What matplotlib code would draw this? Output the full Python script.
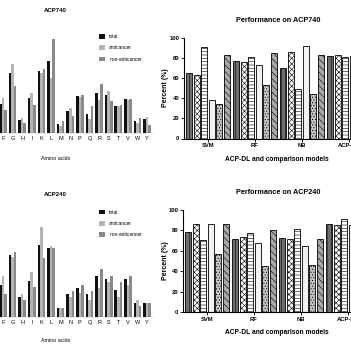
import numpy as np
import matplotlib
matplotlib.use("Agg")
import matplotlib.pyplot as plt
from matplotlib.patches import Patch

plt.rcParams['font.family'] = ['Liberation Sans', 'DejaVu Sans']
plt.rcParams['hatch.linewidth'] = 0.4

# amino acid composition (%), A-E fall outside the cropped view
amino = ['A', 'C', 'D', 'E', 'F', 'G', 'H', 'I', 'K', 'L',
         'M', 'N', 'P', 'Q', 'R', 'S', 'T', 'V', 'W', 'Y']

acp740_total = [7.5, 2.0, 3.0, 3.2, 4.8, 10.0, 2.2, 5.8, 10.3, 12.0,
                1.5, 3.7, 6.2, 3.2, 6.7, 6.3, 4.5, 5.7, 2.0, 2.3]
acp740_anti = [7.0, 2.5, 2.5, 2.8, 5.8, 11.5, 2.5, 6.7, 10.0, 9.2,
               1.2, 4.2, 6.0, 2.3, 5.5, 7.0, 4.5, 5.5, 1.7, 2.7]
acp740_non = [8.0, 1.5, 3.5, 3.6, 3.8, 7.8, 1.7, 4.7, 10.7, 15.7,
              2.0, 2.8, 6.3, 4.5, 8.2, 5.3, 4.7, 5.7, 2.5, 1.3]

acp240_total = [7.8, 2.2, 2.8, 3.0, 5.2, 10.3, 3.2, 6.0, 12.0, 11.5,
                1.5, 3.8, 4.7, 3.7, 6.7, 6.3, 4.5, 6.2, 2.3, 2.3]
acp240_anti = [7.2, 2.8, 2.2, 2.6, 6.8, 10.0, 3.8, 7.5, 15.0, 11.8,
               1.5, 3.3, 4.0, 2.7, 4.8, 5.8, 3.2, 5.3, 2.8, 2.3]
acp240_non = [8.3, 1.7, 3.3, 3.4, 3.8, 10.7, 2.7, 5.0, 9.7, 11.5,
              1.5, 4.2, 5.2, 4.3, 8.0, 6.7, 5.7, 6.8, 1.8, 2.3]

# model performance (%), six metrics per model
models = ['SVM', 'RF', 'NB', 'ACP-DL']
perf740 = [[65, 63, 91, 38, 34, 83],
           [77, 76, 81, 73, 53, 85],
           [70, 86, 49, 92, 44, 83],
           [82, 83, 81, 82, 80, 83]]
perf240 = [[78, 86, 71, 86, 57, 86],
           [72, 74, 77, 68, 45, 80],
           [73, 72, 81, 65, 46, 72],
           [86, 85, 91, 85, 84, 88]]

W, H = 351.0, 350.0
fig = plt.figure(figsize=(3.51, 3.5), dpi=100)


def px_axes(left, top, width, height):
    return fig.add_axes([left / W, 1 - (top + height) / H, width / W, height / H])


def ptext(x, y, s, **kw):
    fig.text(x / W, 1 - y / H, s, ha='center', va='center', **kw)


comp_colors = ['#111111', '#b4b4b4', '#8a8a8a']
comp_names = ['total', 'anticancer', 'non-anticancer']


def composition(top, title, series, title_y, lab_y, leg_y):
    ax = px_axes(-41.2, top, 194, 102)
    x = np.arange(len(amino))
    w = 0.27
    for k, vals in enumerate(series):
        ax.bar(x + (k - 1) * w, vals, w, color=comp_colors[k], linewidth=0)
    ax.set_xlim(-0.6, 19.6)
    ax.set_ylim(0, 17)
    # A-E sit left of the visible area, only label the visible ones
    ax.set_xticks(x[4:])
    ax.set_xticklabels(amino[4:], fontsize=4)
    ax.tick_params(axis='x', length=0, pad=2.5)
    ax.set_yticks([])
    for s in ['top', 'right', 'left']:
        ax.spines[s].set_visible(False)
    ax.spines['bottom'].set_color('#dddddd')
    ax.spines['bottom'].set_linewidth(0.5)
    ptext(55, title_y, title, fontsize=4.3, fontweight='bold')
    ptext(56, lab_y, 'Amino acids', fontsize=3.8)
    handles = [Patch(facecolor=c, edgecolor='none') for c in comp_colors]
    fig.legend(handles, comp_names, loc='upper left',
               bbox_to_anchor=(99 / W, 1 - leg_y / H), frameon=False,
               fontsize=3.5, handlelength=1.3, handleheight=1.1,
               labelspacing=1.3, handletextpad=0.8, borderpad=0,
               borderaxespad=0)


perf_styles = [dict(facecolor='#6e6e6e', hatch='||||'),
               dict(facecolor='white', hatch='xxxxxx'),
               dict(facecolor='white', hatch='-----'),
               dict(facecolor='#f2f2f2', hatch=''),
               dict(facecolor='#c4c4c4', hatch='......'),
               dict(facecolor='#a8a8a8', hatch='\\\\\\\\\\')]


def performance(left, bottom, height, title, data, title_y, lab_y):
    ax = px_axes(left, bottom - height, 189, height)
    data = np.array(data)
    x = np.arange(len(models))
    step = 0.16
    for k in range(6):
        ax.bar(x + (k - 2.5) * step, data[:, k], 0.13, edgecolor='black',
               linewidth=0.6, **perf_styles[k])
    ax.set_xlim(-0.51, 3.51)
    ax.set_ylim(0, 100)
    ax.set_yticks(range(0, 101, 20))
    ax.set_xticks(x)
    ax.set_xticklabels(models, fontsize=4.2, fontweight='bold')
    for t in ax.get_yticklabels():
        t.set_fontsize(4.2)
        t.set_fontweight('bold')
    ax.tick_params(length=2, width=0.6, pad=1.5)
    for s in ['top', 'right']:
        ax.spines[s].set_visible(False)
    for s in ['left', 'bottom']:
        ax.spines[s].set_linewidth(0.8)
    ax.set_ylabel('Percent (%)', fontsize=5, fontweight='bold')
    ax.yaxis.set_label_coords((169 - left) / 189, 0.5)
    ptext(278, title_y, title, fontsize=5.2, fontweight='bold')
    ptext(277, lab_y, 'ACP-DL and comparison models', fontsize=4.8,
          fontweight='bold')


composition(31, 'ACP740', [acp740_total, acp740_anti, acp740_non], 11, 158, 34)
composition(214.5, 'ACP240', [acp240_total, acp240_anti, acp240_non], 195, 340, 209.5)
performance(184, 138.5, 101, 'Performance on ACP740', perf740, 20, 160)
performance(183, 312, 102, 'Performance on ACP240', perf240, 193, 332)

fig.savefig('out.png', dpi=100)
